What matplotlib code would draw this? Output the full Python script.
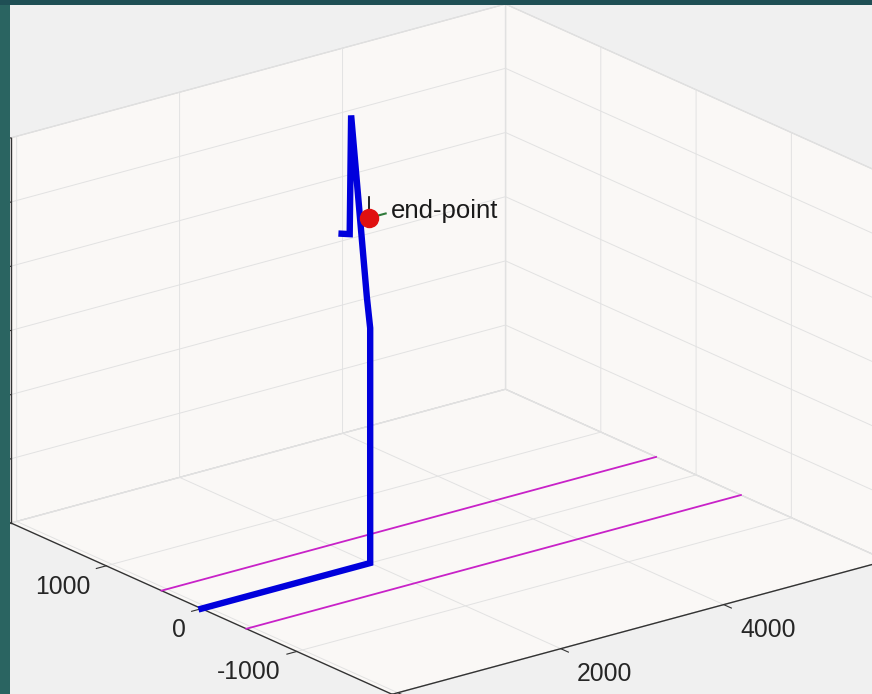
import numpy as np
import matplotlib
matplotlib.use('Agg')
import matplotlib.pyplot as plt
import matplotlib.transforms as mtransforms
from matplotlib.patches import Rectangle
from mpl_toolkits.mplot3d import proj3d

plt.rcParams['font.family'] = ['Liberation Sans', 'DejaVu Sans']

# axis limits and ticks
x_lim = (-70, 6000)
y_lim = (-2000, 2000)
z_lim = (0, 3000)
x_ticks = [0, 2000, 4000, 6000]
y_ticks = [-2000, -1000, 0, 1000, 2000]
z_ticks = [0, 500, 1000, 1500, 2000, 2500, 3000]

# blue trajectory
path_x = [-70, 2000, 2000, 2000, 2000, 2000, 2000]
path_y = [0, 0, 0, 35, 200, 215, 300]
path_z = [0, 0, 1830, 2060, 3420, 2490, 2465]

# magenta lane lines on the floor
lane_x = [-70, 6000]
lane_y = [420, -470]

# end point
end_x, end_y, end_z = 1990, 0, 2690
end_label = 'end-point'

W, H = 872, 694
teal = '#24575a'
fig = plt.figure(figsize=(W / 100, H / 100), dpi=100, facecolor=teal)
fig.patches.append(Rectangle((0, 0), 1, 1, transform=fig.transFigure,
                             facecolor='#f0f0f0', edgecolor='none', zorder=-5))
# screenshot border on top of everything
fig.patches.append(Rectangle((0, 0), 10 / W, 1, transform=fig.transFigure,
                             facecolor='#2a6461', edgecolor='none', zorder=10))
fig.patches.append(Rectangle((0, (H - 5) / H), 1, 5 / H, transform=fig.transFigure,
                             facecolor='#1f4f55', edgecolor='none', zorder=10))

ax = fig.add_axes([0.1, 0.1, 0.8, 0.8 * W / H], projection='3d', proj_type='ortho')
ax.set_facecolor((0, 0, 0, 0))
ax.computed_zorder = False
ax.view_init(elev=20.4, azim=-127.8)
ax.set_box_aspect((626, 622, 411))
ax.set_xlim(*x_lim)
ax.set_ylim(*y_lim)
ax.set_zlim(*z_lim)
ax.set_xticks(x_ticks)
ax.set_yticks(y_ticks)
ax.set_zticks(z_ticks)
ax.set_xticklabels([])
ax.set_yticklabels([])
ax.set_zticklabels([])

for axis in (ax.xaxis, ax.yaxis, ax.zaxis):
    axis.set_pane_color('#faf8f6')
    axis.pane.set_edgecolor('#d6d6d6')
    axis.pane.set_linewidth(0.9)
    axis._axinfo['grid'].update(color='#e2e2e2', linewidth=0.7)
    axis._axinfo['tick'].update(inward_factor=0.25, outward_factor=0.0)
    axis.line.set_color('#333333')
    axis.line.set_linewidth(1.0)
ax.tick_params(colors='#333333', width=0.8)

# lanes
for ly in lane_y:
    ax.plot(lane_x, [ly, ly], [0, 0], color='#c822c8', lw=1.3, zorder=2)

# trajectory
ax.plot(path_x, path_y, path_z, color='#0000dc', lw=4.6, solid_joinstyle='miter', zorder=3)

# small marker triad and the end point
ax.plot([end_x, end_x], [end_y, end_y], [end_z, end_z + 160], color='black', lw=1.2, zorder=4)
ax.plot([end_x, end_x + 200], [end_y, end_y], [end_z, end_z], color='#2f7a3a', lw=1.5, zorder=4)
ax.plot([end_x], [end_y], [end_z], 'o', color='#e01010', ms=13, mec='#e01010', zorder=5)


def to_px(xs, ys, zs):
    px, py, _ = proj3d.proj_transform(np.asarray(xs, float), np.asarray(ys, float),
                                      np.asarray(zs, float), ax.get_proj())
    return ax.transData.transform(np.column_stack([px, py]))


# fit the box onto the place it has in the screenshot
x0, x1 = x_lim
y0, y1 = y_lim
z0, z1 = z_lim
cx = [x0, x0, x1, x0, x1]
cy = [y0, y1, y1, y1, y1]
cz = [z0, z0, z0, z1, z1]
targets = np.array([(391, 694.5), (11, 523), (505, 389), (11, 137), (507, 5)], float)
targets[:, 1] = H - targets[:, 1]

for _ in range(2):
    fig.canvas.draw()
    D = to_px(cx, cy, cz)
    Dm, Tm = D.mean(0), targets.mean(0)
    k = ((D - Dm) * (targets - Tm)).sum() / ((D - Dm) ** 2).sum()
    t = Tm - k * Dm
    bb = ax.get_position(original=False)
    L0 = np.array([bb.x0 * W, bb.y0 * H])
    S0 = bb.width * W
    S1 = k * S0
    L1 = k * L0 + t
    ax.set_position([L1[0] / W, L1[1] / H, S1 / W, S1 / H])

fig.canvas.draw()

px_tr = mtransforms.IdentityTransform()
tick_kw = dict(fontsize=17.8, color='#262626', transform=px_tr)

pts = to_px(x_ticks, [y0] * len(x_ticks), [z0] * len(x_ticks))
for v, (px, py) in zip(x_ticks, pts):
    fig.text(px + 44, py - 25, f'{v}', ha='center', va='center', **tick_kw)

pts = to_px([x0] * len(y_ticks), y_ticks, [z0] * len(y_ticks))
for v, (px, py) in zip(y_ticks, pts):
    fig.text(px - 16, py - 21, f'{v}', ha='right', va='center', **tick_kw)

pts = to_px([x0] * len(z_ticks), [y1] * len(z_ticks), z_ticks)
for v, (px, py) in zip(z_ticks, pts):
    fig.text(px - 14, py, f'{v}', ha='right', va='center', **tick_kw)

(ex, ey), = to_px([end_x], [end_y], [end_z])
fig.text(ex + 22, ey + 7, end_label, ha='left', va='center', fontsize=18.5,
         color='#1a1a1a', transform=px_tr)

fig.savefig('out.png', dpi=100, facecolor=fig.get_facecolor())
